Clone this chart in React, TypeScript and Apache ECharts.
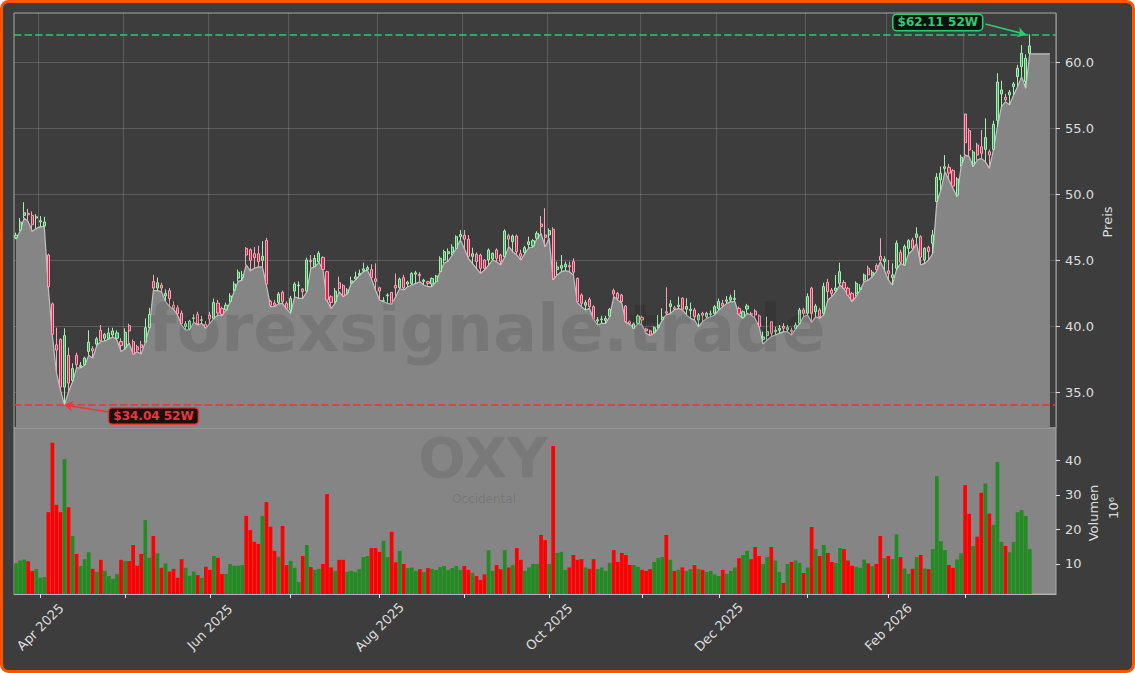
import React, { useEffect, useRef } from 'react';
import * as echarts from 'echarts';

// ---------- calendar ----------
const START_DATE = '2025-03-24';
const END_DATE = '2026-03-24';
const HOLIDAYS = ['2025-04-18', '2025-05-26', '2025-06-19', '2025-07-04', '2025-09-01', '2025-11-27', '2025-12-25', '2026-01-01', '2026-01-19', '2026-02-16'];
const PAD_SLOTS = ['pad1', 'pad2', 'pad3', 'pad4', 'pad5', 'pad6'];
const MONTHS = ['Jan', 'Feb', 'Mar', 'Apr', 'May', 'Jun', 'Jul', 'Aug', 'Sep', 'Oct', 'Nov', 'Dec'];

// ---------- daily data (USD, volume in millions) ----------
const opens = [
  46.7, 47.3, 48.4, 48.55, 48.4, 48.2, 47.9, 47.6, 45.4, 41.7,
  38.6, 39.0, 35.4, 37.8, 35.9, 37.8, 36.95, 37.1, 38.1, 38.3,
  38.65, 39.7, 39.1, 39.1, 39.35, 39.1, 38.85, 38.4, 40.05, 38.84,
  38.45, 38.6, 38.8, 39.9, 43.4, 42.9, 43.1, 42.3, 42.7, 41.6,
  41.4, 41.0, 40.0, 39.8, 40.6, 40.9, 40.45, 40.15, 40.85, 40.6,
  41.75, 41.35, 41.25, 41.9, 42.75, 43.65, 43.7, 45.9, 45.8, 45.5,
  45.5, 45.0, 46.5, 41.9, 41.75, 41.81, 42.57, 41.74, 41.23, 42.67,
  43.08, 42.82, 42.67, 45.0, 44.52, 44.9, 45.22, 44.14, 42.24, 41.86,
  43.3, 43.08, 42.55, 43.3, 43.6, 43.9, 44.2, 44.3, 44.3, 43.6,
  42.92, 41.9, 42.3, 42.57, 43.1, 42.92, 43.68, 43.2, 43.25, 43.95,
  43.94, 43.4, 43.38, 43.2, 43.38, 44.14, 45.02, 45.5, 45.6, 45.9,
  46.8, 46.9, 46.6, 45.3, 45.45, 45.4, 45.02, 45.02, 45.1, 45.78,
  45.4, 45.27, 46.86, 46.41, 46.84, 45.5, 45.6, 46.2, 46.09, 46.67,
  47.75, 46.92, 46.92, 47.35, 44.3, 44.4, 44.5, 44.6, 44.9, 43.63,
  42.37, 41.6, 42.04, 41.49, 40.4, 40.5, 40.45, 40.78, 42.7, 42.5,
  42.37, 41.54, 40.35, 39.85, 40.23, 40.68, 39.8, 39.65, 39.55, 39.95,
  40.5, 41.1, 41.5, 41.4, 41.5, 42.12, 41.3, 41.2, 41.24, 40.48,
  40.98, 40.73, 40.9, 40.98, 41.36, 41.74, 41.9, 41.99, 42.04, 41.36,
  40.68, 41.31, 40.95, 41.16, 40.78, 39.0, 39.3, 40.35, 39.6, 39.7,
  40.0, 39.75, 39.7, 39.85, 40.23, 41.24, 40.99, 42.88, 41.11, 41.24,
  40.99, 43.33, 42.75, 42.7, 43.26, 43.31, 42.88, 42.5, 42.5, 42.8,
  43.51, 44.4, 43.9, 44.6, 45.3, 44.9, 44.2, 43.7, 44.4, 45.6,
  44.65, 45.9, 46.54, 46.74, 46.79, 45.03, 45.98, 46.29, 49.45, 51.09,
  51.96, 52.04, 51.79, 49.94, 52.39, 56.08, 54.82, 52.3, 53.73, 53.6,
  53.4, 53.23, 53.4, 55.6, 57.6, 57.35, 57.53, 58.16, 58.91, 59.67,
  58.54, 60.68,
];
const closes = [
  46.9, 47.9, 48.6, 48.45, 47.7, 48.3, 48.0, 47.9, 43.0, 39.4,
  38.2, 35.4, 39.3, 35.7, 36.8, 37.1, 37.05, 37.6, 38.8, 38.15,
  39.05, 38.9, 39.4, 39.5, 39.65, 39.5, 38.55, 39.55, 39.65, 37.9,
  38.2, 38.4, 39.9, 40.9, 42.9, 43.3, 42.9, 42.5, 42.1, 41.35,
  40.95, 40.2, 40.2, 40.4, 40.65, 40.2, 40.5, 39.9, 40.55, 41.8,
  41.0, 40.9, 41.6, 42.3, 43.2, 44.1, 43.9, 45.4, 45.0, 45.2,
  44.9, 45.3, 43.2, 41.6, 41.6, 42.45, 41.86, 41.36, 42.12, 43.2,
  43.13, 42.62, 45.02, 44.9, 45.15, 45.53, 44.31, 41.99, 41.81, 42.67,
  42.87, 42.29, 42.75, 43.45, 43.75, 44.0, 44.35, 44.45, 43.7, 43.4,
  42.67, 41.95, 42.37, 41.74, 42.9, 43.58, 42.92, 43.35, 44.0, 44.05,
  43.83, 43.5, 43.25, 43.63, 43.81, 45.15, 45.65, 45.65, 46.0, 46.79,
  46.95, 46.6, 45.3, 45.5, 44.9, 44.39, 44.39, 45.78, 45.53, 45.15,
  44.9, 47.22, 46.61, 46.84, 45.65, 45.3, 45.96, 46.4, 46.49, 47.04,
  47.55, 46.74, 47.25, 43.63, 44.5, 44.6, 44.7, 44.5, 44.1, 41.87,
  41.74, 41.8, 41.49, 40.6, 40.5, 40.55, 40.6, 41.29, 42.45, 42.12,
  41.87, 40.35, 40.2, 40.18, 40.78, 40.48, 39.65, 39.34, 39.9, 40.1,
  40.7, 41.0, 41.7, 41.3, 41.6, 41.3, 41.5, 41.3, 40.73, 40.86,
  40.83, 40.98, 40.95, 41.49, 41.87, 41.54, 42.0, 42.2, 42.1, 40.93,
  41.11, 41.54, 40.9, 40.86, 39.97, 39.2, 39.6, 39.47, 39.7, 39.85,
  39.85, 39.9, 39.6, 40.1, 41.24, 40.99, 42.25, 40.99, 41.54, 40.73,
  43.01, 42.63, 42.5, 42.9, 44.14, 42.88, 42.37, 42.0, 43.26, 42.9,
  43.89, 43.9, 44.1, 44.3, 45.0, 45.1, 44.0, 43.9, 46.3, 44.85,
  46.04, 46.49, 45.91, 47.0, 45.23, 45.91, 45.66, 46.92, 51.3, 51.6,
  52.09, 51.6, 50.62, 51.16, 52.8, 53.91, 53.35, 53.2, 52.97, 53.1,
  54.3, 52.97, 55.3, 58.5, 57.9, 57.15, 57.73, 58.36, 59.55, 60.68,
  60.3, 61.24,
];
const lows = [
  46.6, 47.2, 48.2, 47.95, 47.2, 47.4, 47.55, 47.55, 42.9, 39.3,
  36.5, 35.2, 34.04, 35.05, 35.8, 36.85, 36.85, 37.05, 37.8, 37.6,
  38.55, 38.85, 38.9, 39.05, 39.2, 38.97, 38.1, 38.28, 38.75, 37.88,
  38.08, 37.9, 38.8, 39.85, 42.7, 42.7, 42.63, 41.9, 41.5, 41.3,
  40.86, 40.1, 39.72, 39.75, 40.3, 40.1, 40.23, 39.85, 40.23, 40.6,
  40.86, 40.81, 41.24, 41.8, 42.63, 43.4, 43.5, 44.65, 44.2, 44.4,
  44.5, 44.5, 43.13, 41.49, 41.5, 41.7, 41.74, 41.3, 40.98, 42.24,
  42.12, 42.12, 42.62, 44.4, 44.52, 44.85, 44.3, 41.95, 41.36, 41.74,
  42.62, 42.25, 42.45, 43.22, 43.5, 43.85, 44.14, 44.26, 43.6, 42.75,
  41.99, 41.86, 41.74, 41.66, 42.24, 42.87, 42.75, 43.0, 43.13, 43.25,
  43.38, 43.13, 43.0, 43.0, 43.38, 44.14, 44.77, 44.95, 45.4, 45.9,
  46.54, 45.9, 45.15, 44.77, 44.39, 44.01, 44.26, 44.64, 45.02, 44.9,
  44.64, 45.25, 46.03, 45.65, 45.4, 45.02, 45.53, 45.95, 46.0, 46.65,
  47.04, 46.03, 46.67, 43.51, 43.89, 44.14, 44.22, 44.14, 43.89, 41.8,
  41.49, 41.24, 41.36, 40.55, 40.1, 40.23, 40.23, 40.73, 42.25, 41.99,
  41.74, 40.3, 40.15, 39.85, 40.23, 40.1, 39.47, 39.3, 39.47, 39.85,
  40.48, 40.86, 40.98, 41.24, 41.36, 41.24, 40.86, 40.6, 40.48, 39.97,
  40.35, 40.6, 40.73, 40.86, 41.24, 41.49, 41.74, 41.87, 41.87, 40.86,
  40.6, 40.98, 40.86, 40.6, 39.97, 38.66, 38.97, 39.22, 39.34, 39.47,
  39.6, 39.6, 39.34, 39.8, 40.2, 40.73, 40.86, 40.3, 40.73, 40.61,
  40.86, 42.0, 42.25, 42.63, 43.13, 42.85, 42.35, 41.87, 42.25, 42.75,
  43.38, 43.5, 43.76, 44.14, 44.9, 44.27, 43.51, 43.13, 44.27, 44.77,
  44.6, 45.5, 45.78, 46.29, 44.65, 44.77, 45.03, 45.53, 49.44, 50.32,
  51.71, 51.08, 50.45, 49.82, 52.09, 52.97, 52.85, 52.09, 52.6, 52.72,
  52.47, 51.96, 53.35, 55.13, 56.64, 57.02, 56.77, 57.53, 58.16, 58.91,
  58.03, 60.63,
];
const highs = [
  47.1, 48.2, 49.4, 48.9, 48.7, 48.5, 48.35, 48.3, 45.5, 41.8,
  39.9, 39.1, 39.85, 38.4, 37.2, 38.0, 37.3, 37.7, 39.7, 38.5,
  39.2, 40.1, 39.5, 39.9, 39.9, 39.7, 39.1, 39.85, 40.2, 39.0,
  38.6, 38.9, 40.6, 41.4, 43.9, 43.7, 43.3, 42.8, 42.9, 41.9,
  41.6, 41.2, 40.4, 40.5, 40.9, 41.1, 40.8, 40.4, 41.1, 42.1,
  42.0, 41.5, 41.8, 42.5, 43.4, 44.3, 44.2, 46.0, 45.9, 46.0,
  46.1, 46.45, 46.7, 42.0, 42.0, 42.6, 42.7, 41.9, 42.3, 43.35,
  43.4, 42.9, 45.2, 45.4, 45.4, 45.7, 45.3, 44.2, 42.35, 42.9,
  43.76, 43.2, 42.9, 43.76, 44.14, 44.3, 44.82, 44.6, 44.7, 44.77,
  43.0, 42.2, 42.5, 42.6, 44.0, 43.7, 43.9, 43.45, 44.1, 44.2,
  44.1, 43.6, 43.45, 43.7, 43.9, 45.3, 45.8, 45.9, 46.21, 46.9,
  47.29, 47.29, 46.91, 45.96, 45.6, 45.5, 45.1, 45.9, 45.6, 45.9,
  45.5, 47.35, 47.0, 46.95, 46.95, 45.8, 46.1, 46.8, 46.6, 47.2,
  48.36, 48.94, 47.42, 47.5, 44.9, 45.4, 44.9, 44.9, 45.15, 43.7,
  42.5, 41.99, 42.2, 41.6, 40.7, 40.8, 40.8, 41.4, 42.85, 42.6,
  42.45, 41.6, 40.45, 40.3, 40.9, 40.8, 39.9, 39.75, 40.0, 40.86,
  41.36, 42.95, 41.99, 41.54, 42.25, 42.2, 42.12, 41.8, 41.4, 41.0,
  41.1, 41.1, 41.2, 41.6, 42.1, 42.0, 42.3, 42.4, 42.75, 41.5,
  41.2, 41.7, 41.1, 41.3, 40.9, 39.6, 40.73, 40.4, 39.97, 40.1,
  40.23, 40.1, 39.9, 40.3, 41.4, 41.4, 42.5, 43.0, 41.7, 41.4,
  43.3, 43.6, 42.9, 43.89, 44.82, 43.5, 43.0, 42.6, 43.4, 43.2,
  44.0, 44.6, 44.27, 44.77, 46.67, 45.3, 45.03, 44.77, 46.5, 45.8,
  46.2, 46.6, 46.7, 47.5, 46.9, 46.0, 46.1, 47.3, 51.6, 52.1,
  52.97, 52.3, 51.9, 51.3, 53.0, 56.1, 55.0, 53.35, 53.9, 54.87,
  55.75, 53.4, 55.57, 59.17, 58.6, 57.6, 57.9, 58.5, 59.8, 61.3,
  60.6, 62.11,
];
const volumes = [
  10.2, 11.0, 11.3, 10.8, 8.0, 8.5, 6.0, 6.2, 25.0, 45.1,
  27.1, 25.0, 40.3, 26.4, 18.1, 12.9, 9.4, 11.4, 13.4, 8.6,
  7.7, 11.2, 8.0, 6.5, 5.7, 7.1, 11.2, 10.9, 10.9, 15.5,
  9.5, 12.9, 22.7, 11.8, 18.1, 13.1, 8.9, 10.2, 7.8, 8.6,
  6.0, 11.4, 8.9, 6.6, 7.8, 6.8, 6.0, 9.2, 8.3, 12.3,
  11.8, 7.1, 7.1, 10.0, 9.5, 9.5, 9.7, 23.9, 19.8, 16.4,
  15.8, 23.9, 27.9, 20.8, 13.8, 12.1, 21.0, 9.7, 10.9, 8.9,
  4.8, 12.3, 15.5, 9.1, 8.3, 8.6, 10.0, 30.2, 9.0, 8.0,
  11.2, 11.2, 7.7, 8.0, 7.7, 8.5, 12.0, 12.3, 14.6, 14.6,
  13.5, 16.7, 12.0, 19.3, 10.5, 13.8, 10.0, 8.8, 9.0, 8.0,
  8.5, 7.7, 8.8, 8.6, 8.3, 9.1, 9.4, 8.3, 8.8, 9.4,
  8.3, 9.4, 8.3, 7.4, 6.5, 5.4, 7.0, 14.0, 8.0, 9.7,
  8.5, 14.0, 9.0, 9.7, 14.6, 11.2, 8.0, 9.0, 10.0, 10.0,
  18.4, 16.9, 10.0, 44.1, 13.2, 13.5, 8.3, 9.0, 12.6, 11.2,
  11.4, 9.0, 8.6, 11.4, 8.5, 9.0, 8.0, 10.3, 14.0, 10.6,
  13.2, 12.6, 9.7, 9.7, 9.2, 8.3, 8.0, 8.5, 10.6, 11.7,
  12.0, 18.4, 11.2, 8.0, 8.3, 9.0, 8.0, 8.5, 9.7, 8.6,
  8.3, 7.7, 8.0, 7.0, 6.5, 8.3, 7.2, 8.0, 9.0, 11.7,
  12.6, 13.8, 11.4, 14.9, 12.3, 10.0, 12.0, 14.9, 11.0, 7.7,
  4.5, 10.0, 10.6, 11.0, 10.3, 7.4, 9.0, 20.7, 14.3, 12.3,
  15.5, 13.2, 10.6, 10.3, 14.6, 14.3, 11.0, 9.5, 9.2, 8.9,
  11.3, 10.2, 9.4, 10.0, 18.1, 11.7, 12.3, 11.4, 18.6, 12.0,
  8.7, 7.1, 8.6, 12.0, 12.6, 8.7, 8.5, 14.3, 35.4, 16.6,
  14.0, 9.7, 8.9, 11.3, 13.1, 32.8, 24.5, 15.2, 17.9, 30.6,
  33.3, 24.6, 21.3, 39.5, 16.4, 15.2, 13.4, 16.4, 25.0, 25.6,
  23.9, 14.3,
];
// the shaded low-price area runs on a few slots past the last session
const areaTail = [60.63, 60.63, 60.63, 60.63, 60.63];
const priceTicks = [35, 40, 45, 50, 55, 60];
const volumeTicks = [10, 20, 30, 40];

// ---------- colours ----------
const BG = '#3d3d3d';
const FRAME = '#ff5500';
const AREA = '#858585';
const TXT = '#dedede';
const GRID_LINE = 'rgba(255,255,255,0.16)';
const HI_COL = '#2ecc71';
const LO_COL = '#e8383a';

function tradingDays(): string[] {
  const out: string[] = [];
  const d = new Date(START_DATE + 'T00:00:00Z');
  const end = new Date(END_DATE + 'T00:00:00Z');
  while (d.getTime() <= end.getTime()) {
    const wd = d.getUTCDay();
    const s = d.toISOString().slice(0, 10);
    if (wd !== 0 && wd !== 6 && HOLIDAYS.indexOf(s) < 0) out.push(s);
    d.setUTCDate(d.getUTCDate() + 1);
  }
  return out;
}

function buildOption() {
  const dates = tradingDays();
  const categories = [...dates, ...PAD_SLOTS];
  const n = opens.length;

  const isMonthStart = (i: number) =>
    i > 0 && i < dates.length && dates[i].slice(0, 7) !== dates[i - 1].slice(0, 7);
  const isLabelMonth = (i: number) => isMonthStart(i) && Number(dates[i].slice(5, 7)) % 2 === 0;
  const fmtDate = (v: string) =>
    v.startsWith('pad') ? '' : `${MONTHS[Number(v.slice(5, 7)) - 1]} ${v.slice(0, 4)}`;

  const candleData = opens.map((o, i) => [o, closes[i], lows[i], highs[i]]);
  const areaData = [...lows, ...areaTail];
  const volData = volumes.map((v, i) => ({
    value: v,
    itemStyle: { color: closes[i] >= opens[i] ? '#228b22' : '#ff0000' },
  }));

  let hiIdx = 0;
  let loIdx = 0;
  for (let i = 0; i < n; i++) {
    if (highs[i] > highs[hiIdx]) hiIdx = i;
    if (lows[i] < lows[loIdx]) loIdx = i;
  }
  const hiVal = highs[hiIdx];
  const loVal = lows[loIdx];

  const boxLabel = (col: string, fill: string) => ({
    show: true,
    position: 'inside',
    color: col,
    fontWeight: 'bold',
    fontSize: 12,
    fontFamily: 'DejaVu Sans',
    backgroundColor: fill,
    borderColor: col,
    borderWidth: 1.5,
    borderRadius: 3,
    padding: [2, 4, 1, 4],
  });

  return {
    animation: false,
    backgroundColor: 'transparent',
    textStyle: { fontFamily: 'DejaVu Sans' },
    graphic: [
      {
        type: 'rect',
        silent: true,
        z: -10,
        shape: { x: 1.5, y: 1.5, width: 1132, height: 670, r: 7 },
        style: { fill: BG, stroke: FRAME, lineWidth: 3 },
      },
      {
        type: 'text',
        silent: true,
        z: 5,
        x: 487,
        y: 328,
        style: {
          text: 'forexsignale.trade',
          font: 'bold 65px "DejaVu Sans"',
          fill: 'rgba(0,0,0,0.1)',
          align: 'center',
          verticalAlign: 'middle',
        },
      },
      {
        type: 'text',
        silent: true,
        z: 5,
        x: 483,
        y: 457,
        style: {
          text: 'OXY',
          font: 'bold 56px "DejaVu Sans"',
          fill: 'rgba(0,0,0,0.09)',
          align: 'center',
          verticalAlign: 'middle',
        },
      },
      {
        type: 'text',
        silent: true,
        z: 5,
        x: 484,
        y: 499,
        style: {
          text: 'Occidental',
          font: '12px "DejaVu Sans"',
          fill: 'rgba(0,0,0,0.12)',
          align: 'center',
          verticalAlign: 'middle',
        },
      },
      {
        type: 'text',
        silent: true,
        x: 1107,
        y: 222,
        rotation: Math.PI / 2,
        style: { text: 'Preis', font: '13px "DejaVu Sans"', fill: TXT, align: 'center', verticalAlign: 'middle' },
      },
      {
        type: 'text',
        silent: true,
        x: 1093,
        y: 513,
        rotation: Math.PI / 2,
        style: { text: 'Volumen', font: '13px "DejaVu Sans"', fill: TXT, align: 'center', verticalAlign: 'middle' },
      },
      {
        type: 'text',
        silent: true,
        x: 1113,
        y: 508,
        rotation: Math.PI / 2,
        style: { text: '10⁶', font: '13px "DejaVu Sans"', fill: TXT, align: 'center', verticalAlign: 'middle' },
      },
    ],
    grid: [
      { left: 14, right: 79, top: 13, height: 415, show: true, borderColor: '#a8a8a8', borderWidth: 1, backgroundColor: 'transparent' },
      { left: 14, right: 79, top: 428, height: 166, show: true, borderColor: '#a8a8a8', borderWidth: 1, backgroundColor: AREA },
    ],
    xAxis: [
      {
        type: 'category',
        gridIndex: 0,
        data: categories,
        boundaryGap: true,
        axisLine: { show: false },
        axisTick: { show: false },
        axisLabel: { show: false },
        splitLine: { show: true, interval: (i: number) => isMonthStart(i), lineStyle: { color: GRID_LINE, width: 1 } },
      },
      {
        type: 'category',
        gridIndex: 1,
        data: categories,
        boundaryGap: true,
        axisLine: { show: true, lineStyle: { color: '#b4b4b4', width: 1 } },
        axisTick: { show: true, interval: (i: number) => isMonthStart(i), alignWithLabel: true, length: 4, lineStyle: { color: TXT } },
        axisLabel: {
          show: true,
          interval: (i: number) => isLabelMonth(i),
          rotate: 45,
          align: 'center',
          verticalAlign: 'middle',
          margin: 33,
          color: TXT,
          fontSize: 13,
          formatter: (v: string) => fmtDate(v),
        },
        splitLine: { show: false },
      },
    ],
    yAxis: [
      {
        type: 'value',
        gridIndex: 0,
        position: 'right',
        min: 32.3,
        max: 63.73,
        splitNumber: 5,
        axisLine: { show: false },
        axisTick: { show: true, length: 4, lineStyle: { color: TXT }, customValues: priceTicks },
        axisLabel: {
          show: true,
          color: TXT,
          fontSize: 13,
          margin: 9,
          customValues: priceTicks,
          formatter: (v: number) => (priceTicks.some((t) => Math.abs(t - v) < 1e-6) ? v.toFixed(1) : ''),
        },
        splitLine: { show: true, lineStyle: { color: GRID_LINE, width: 1 } },
      },
      {
        type: 'value',
        gridIndex: 1,
        position: 'right',
        min: 1.32,
        max: 49.34,
        splitNumber: 5,
        axisLine: { show: false },
        axisTick: { show: true, length: 4, lineStyle: { color: TXT }, customValues: volumeTicks },
        axisLabel: {
          show: true,
          color: TXT,
          fontSize: 13,
          margin: 9,
          customValues: volumeTicks,
          formatter: (v: number) => (volumeTicks.some((t) => Math.abs(t - v) < 1e-6) ? String(v) : ''),
        },
        splitLine: { show: false },
      },
    ],
    series: [
      {
        name: 'Tiefs',
        type: 'line',
        xAxisIndex: 0,
        yAxisIndex: 0,
        data: areaData,
        symbol: 'none',
        showSymbol: false,
        silent: true,
        z: 2,
        lineStyle: { color: '#c2c2c2', width: 1.2 },
        areaStyle: { color: AREA, opacity: 1, origin: 'start' },
        markLine: {
          silent: true,
          symbol: ['none', 'none'],
          label: { show: false },
          data: [
            { yAxis: hiVal, lineStyle: { color: 'rgba(46,204,113,0.72)', width: 2, type: [7.4, 3.2] } },
            { yAxis: loVal, lineStyle: { color: 'rgba(232,56,58,0.85)', width: 2, type: [7.4, 3.2] } },
            [
              { coord: [hiIdx - 11, hiVal + 0.79], symbol: 'none', lineStyle: { color: HI_COL, width: 1.6, type: 'solid' } },
              { coord: [hiIdx - 1, hiVal], symbol: 'arrow', symbolSize: 8 },
            ],
            [
              { coord: [loIdx + 11, loVal - 0.53], symbol: 'none', lineStyle: { color: LO_COL, width: 1.6, type: 'solid' } },
              { coord: [loIdx, loVal], symbol: 'arrow', symbolSize: 8 },
            ],
          ],
        },
        markPoint: {
          silent: true,
          symbol: 'rect',
          symbolSize: [1, 1],
          itemStyle: { color: 'rgba(0,0,0,0)' },
          data: [
            {
              coord: [hiIdx, hiVal],
              label: { ...boxLabel(HI_COL, 'rgba(5,12,8,0.92)'), offset: [-92, -12], formatter: `$${hiVal.toFixed(2)} 52W` },
            },
            {
              coord: [loIdx, loVal],
              label: { ...boxLabel(LO_COL, 'rgba(20,5,5,0.92)'), offset: [89, 11], formatter: `$${loVal.toFixed(2)} 52W` },
            },
          ],
        },
      },
      {
        name: 'OXY',
        type: 'candlestick',
        xAxisIndex: 0,
        yAxisIndex: 0,
        data: candleData,
        barWidth: 2.6,
        z: 3,
        silent: true,
        itemStyle: {
          color: '#3aa856',
          color0: '#dc2850',
          borderColor: '#a9ecb4',
          borderColor0: '#f5a6b8',
          borderWidth: 1,
        },
      },
      {
        name: 'Volumen',
        type: 'bar',
        xAxisIndex: 1,
        yAxisIndex: 1,
        data: volData,
        barWidth: '92%',
        silent: true,
      },
    ],
  };
}

export default function App() {
  const ref = useRef<HTMLDivElement>(null);
  useEffect(() => {
    if (!ref.current) return;
    const chart = echarts.init(ref.current, null, { renderer: 'svg' });
    chart.setOption(buildOption() as any);
    return () => chart.dispose();
  }, []);
  return (
    <div style={{ position: 'absolute', left: 0, top: 0, width: 1135, height: 673, background: '#ffffff' }}>
      <div ref={ref} style={{ width: 1135, height: 673 }} />
    </div>
  );
}
